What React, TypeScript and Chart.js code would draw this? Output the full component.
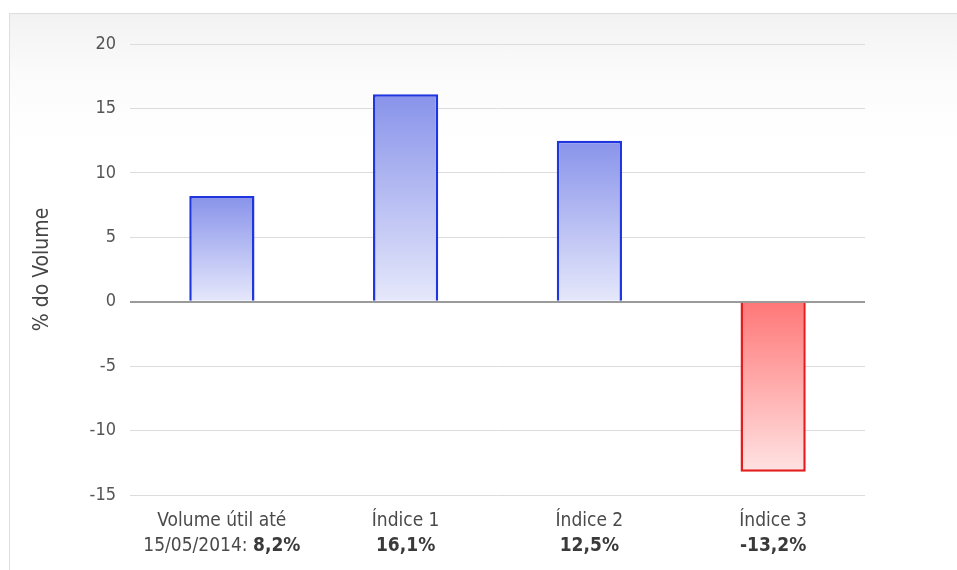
import React, { useEffect, useRef } from "react";
import { Chart, registerables } from "chart.js";

Chart.register(...registerables);

const categoryLines: string[] = ["Volume útil até", "Índice 1", "Índice 2", "Índice 3"];
const categoryPrefixes: string[] = ["15/05/2014: ", "", "", ""];
const values: number[] = [8.2, 16.1, 12.5, -13.2];
const valueLabels: string[] = ["8,2%", "16,1%", "12,5%", "-13,2%"];
const yMin = -15;
const yMax = 20;
const yStep = 5;
const yTitle = "% do Volume";

const FONT = "'DejaVu Sans Condensed', 'DejaVu Sans', sans-serif";
const LABEL_SIZE = 19;

const labelPlugin = {
  id: "multiLabels",
  afterDraw(chart: any) {
    const { ctx, chartArea, scales } = chart;
    const x = scales.x;
    ctx.save();
    ctx.textBaseline = "middle";
    categoryLines.forEach((line, i) => {
      const cx = x.getPixelForValue(i);
      ctx.font = `${LABEL_SIZE}px ${FONT}`;
      ctx.fillStyle = "#4a4a4a";
      ctx.textAlign = "center";
      ctx.fillText(line, cx, chartArea.bottom + 26);
      const pre = categoryPrefixes[i];
      ctx.font = `${LABEL_SIZE}px ${FONT}`;
      const wPre = ctx.measureText(pre).width;
      ctx.font = `bold ${LABEL_SIZE}px ${FONT}`;
      const wVal = ctx.measureText(valueLabels[i]).width;
      const start = cx - (wPre + wVal) / 2;
      ctx.textAlign = "left";
      ctx.font = `${LABEL_SIZE}px ${FONT}`;
      ctx.fillStyle = "#4a4a4a";
      ctx.fillText(pre, start, chartArea.bottom + 51);
      ctx.font = `bold ${LABEL_SIZE}px ${FONT}`;
      ctx.fillStyle = "#3a3a3a";
      ctx.fillText(valueLabels[i], start + wPre, chartArea.bottom + 51);
    });
    ctx.restore();
  },
};

export default function App() {
  const ref = useRef<HTMLCanvasElement | null>(null);
  useEffect(() => {
    if (!ref.current) return;
    const grad = (ctx: any) => {
      const chart = ctx.chart;
      const y = chart.scales && chart.scales.y;
      const v = ctx.raw as number;
      const fallback = v < 0 ? "#ffaaaa" : "#b0b8f0";
      if (!y || !chart.chartArea || typeof v !== "number") return fallback;
      const top = y.getPixelForValue(Math.max(v, 0));
      const bot = y.getPixelForValue(Math.min(v, 0));
      if (!isFinite(top) || !isFinite(bot)) return fallback;
      const g = chart.ctx.createLinearGradient(0, top, 0, bot);
      if (v >= 0) {
        g.addColorStop(0, "#8893ea");
        g.addColorStop(1, "#e6e8fb");
      } else {
        g.addColorStop(0, "#ff7777");
        g.addColorStop(1, "#ffe3e3");
      }
      return g;
    };
    const chart = new Chart(ref.current, {
      type: "bar",
      data: {
        labels: categoryLines,
        datasets: [
          {
            data: values,
            backgroundColor: grad as any,
            borderColor: values.map((v) => (v >= 0 ? "#1f35e0" : "#e41e1e")),
            borderWidth: 2.5,
            borderSkipped: "start",
            categoryPercentage: 1,
            barPercentage: 0.355,
          },
        ],
      },
      options: {
        animation: false,
        responsive: false,
        maintainAspectRatio: false,
        layout: { padding: { top: 44, right: 92, bottom: 67, left: 0 } },
        plugins: { legend: { display: false }, tooltip: { enabled: false } },
        scales: {
          x: {
            ticks: { display: false },
            grid: { display: false },
            border: { display: false },
          },
          y: {
            min: yMin,
            max: yMax,
            ticks: {
              stepSize: yStep,
              color: "#555",
              padding: 14,
              font: { family: FONT, size: 18 },
            },
            grid: {
              drawTicks: false,
              color: (c: any) => (c.tick && c.tick.value === 0 ? "#9a9a9a" : "#dcdcdc"),
              lineWidth: (c: any) => (c.tick && c.tick.value === 0 ? 2 : 1),
            },
            border: { display: false },
            title: {
              display: true,
              text: yTitle,
              color: "#444",
              font: { family: FONT, size: 21 },
              padding: { top: 30, bottom: 0 },
            },
            afterFit: (s: any) => {
              s.width = 130;
            },
          },
        },
      },
      plugins: [labelPlugin],
    });
    return () => chart.destroy();
  }, []);
  return (
    <div style={{ position: "absolute", left: 0, top: 0, width: 957, height: 570, overflow: "hidden", background: "#fff" }}>
      <div
        style={{
          position: "absolute",
          left: 9,
          top: 13,
          width: 960,
          height: 570,
          border: "1px solid #dedede",
          background: "linear-gradient(#f2f2f2 0px, #fbfbfb 60px, #ffffff 130px)",
        }}
      />
      <canvas ref={ref} width={957} height={570} style={{ position: "absolute", left: 0, top: 0 }} />
    </div>
  );
}
